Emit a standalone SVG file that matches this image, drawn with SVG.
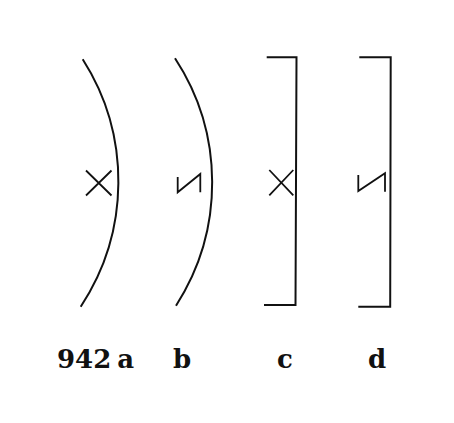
<svg xmlns="http://www.w3.org/2000/svg" width="454" height="423" viewBox="0 0 454 423">
<style>
.ln{fill:none;stroke:#111;stroke-width:2;stroke-linecap:butt;stroke-linejoin:miter}
.mk{fill:none;stroke:#111;stroke-width:1.8}
.lb{font-family:"DejaVu Serif","Liberation Serif",serif;font-weight:bold;font-size:26px;fill:#111}
</style>
<rect width="454" height="423" fill="#fff"/>
<g id="a">
<path class="ln" d="M82.7,59.3 A227,227 0 0 1 80.7,306.7"/>
<path class="mk" d="M86,170.5 L111.5,195.5 M86,195.5 L111.5,170.5"/>
<text class="lb" x="57" y="368" word-spacing="-3">942 a</text>
</g>
<g id="b">
<path class="ln" d="M175,58.3 A227,227 0 0 1 176,305.7"/>
<path class="mk" d="M177.7,177 L177.7,192.3 L200.3,174 L200.3,192.3"/>
<text class="lb" x="173" y="368">b</text>
</g>
<g id="c">
<path class="ln" d="M266.7,57.3 L296.5,57.3 L295.5,305 L264,305"/>
<path class="mk" d="M269.3,170 L293.3,195.3 M269.3,195.3 L293.3,170"/>
<text class="lb" x="277" y="368">c</text>
</g>
<g id="d">
<path class="ln" d="M359.3,57.3 L390.7,57.3 L390.2,306.7 L358.3,306.7"/>
<path class="mk" d="M358.3,175 L358.3,191 L385,173.3 L385,191.7"/>
<text class="lb" x="368" y="368">d</text>
</g>
</svg>
